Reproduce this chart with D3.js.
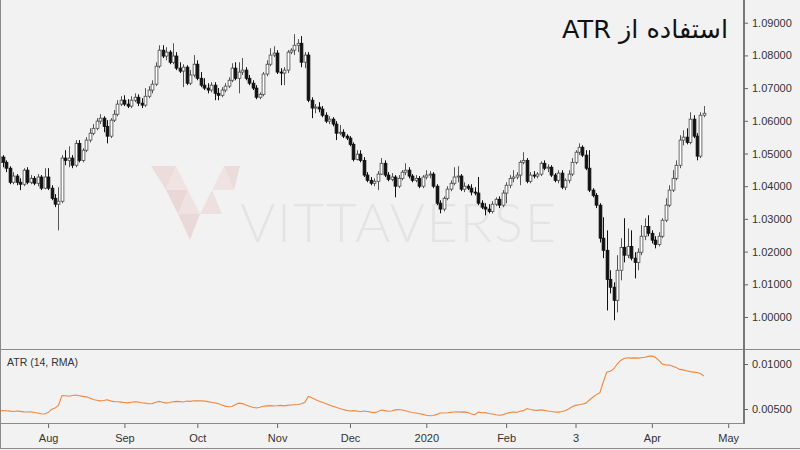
<!DOCTYPE html>
<html><head><meta charset="utf-8">
<script src="https://cdn.jsdelivr.net/npm/d3@7"></script>
<style>body{margin:0;background:#f2f2f2;}svg{display:block;}</style>
</head><body>
<svg id="chart" width="800" height="450"></svg>
<script>
// ---------- DATA ----------
const startDate = "2019-07-12"; // first daily bar (weekdays only)
const opens = [
1.0473,1.0489,1.0473,1.0455,1.0412,1.0431,1.0412,1.0406,1.0449,1.0412,
1.0424,1.0409,1.0428,1.0394,1.0428,1.0394,1.0363,1.0345,1.0354,1.0486,
1.0479,1.0486,1.0464,1.0531,1.0479,1.0510,1.0541,1.0562,1.0577,1.0599,
1.0608,1.0583,1.0553,1.0602,1.0620,1.0651,1.0663,1.0651,1.0645,1.0663,
1.0672,1.0654,1.0648,1.0675,1.0694,1.0712,1.0767,1.0816,1.0798,1.0810,
1.0779,1.0798,1.0761,1.0752,1.0764,1.0715,1.0740,1.0773,1.0730,1.0709,
1.0700,1.0694,1.0709,1.0684,1.0678,1.0694,1.0706,1.0724,1.0761,1.0730,
1.0749,1.0755,1.0730,1.0715,1.0700,1.0672,1.0681,1.0743,1.0773,1.0801,
1.0807,1.0749,1.0746,1.0755,1.0810,1.0816,1.0831,1.0837,1.0779,1.0801,
1.0663,1.0639,1.0642,1.0636,1.0617,1.0599,1.0605,1.0590,1.0562,1.0565,
1.0553,1.0547,1.0528,1.0482,1.0498,1.0479,1.0434,1.0418,1.0409,1.0415,
1.0437,1.0470,1.0434,1.0421,1.0428,1.0400,1.0424,1.0443,1.0449,1.0431,
1.0418,1.0424,1.0400,1.0428,1.0434,1.0437,1.0400,1.0348,1.0330,1.0363,
1.0391,1.0409,1.0428,1.0431,1.0391,1.0400,1.0394,1.0382,1.0379,1.0348,
1.0336,1.0330,1.0323,1.0345,1.0360,1.0342,1.0379,1.0403,1.0424,1.0428,
1.0434,1.0473,1.0479,1.0415,1.0434,1.0431,1.0437,1.0470,1.0455,1.0458,
1.0434,1.0418,1.0440,1.0397,1.0418,1.0437,1.0473,1.0504,1.0519,1.0495,
1.0455,1.0388,1.0372,1.0342,1.0241,1.0204,1.0115,1.0091,1.0051,1.0143,
1.0213,1.0189,1.0216,1.0180,1.0167,1.0198,1.0247,1.0277,1.0256,1.0235,
1.0222,1.0247,1.0296,1.0342,1.0388,1.0424,1.0464,1.0541,1.0550,1.0534,
1.0605,1.0553,1.0492,1.0617];
const highs = [
1.0501,1.0495,1.0479,1.0461,1.0443,1.0437,1.0424,1.0455,1.0458,1.0434,
1.0431,1.0437,1.0434,1.0455,1.0455,1.0403,1.0376,1.0397,1.0495,1.0510,
1.0522,1.0495,1.0541,1.0541,1.0516,1.0550,1.0577,1.0590,1.0608,1.0620,
1.0614,1.0602,1.0608,1.0633,1.0663,1.0675,1.0678,1.0666,1.0675,1.0684,
1.0681,1.0669,1.0700,1.0706,1.0724,1.0779,1.0831,1.0831,1.0825,1.0816,
1.0837,1.0810,1.0779,1.0773,1.0770,1.0755,1.0801,1.0785,1.0749,1.0730,
1.0715,1.0718,1.0718,1.0700,1.0703,1.0715,1.0733,1.0776,1.0779,1.0779,
1.0792,1.0764,1.0740,1.0724,1.0709,1.0687,1.0749,1.0785,1.0822,1.0828,
1.0816,1.0761,1.0764,1.0816,1.0822,1.0865,1.0850,1.0859,1.0810,1.0810,
1.0672,1.0651,1.0657,1.0645,1.0626,1.0614,1.0611,1.0599,1.0587,1.0574,
1.0559,1.0553,1.0534,1.0510,1.0510,1.0489,1.0443,1.0428,1.0424,1.0446,
1.0486,1.0479,1.0443,1.0440,1.0434,1.0434,1.0449,1.0470,1.0458,1.0437,
1.0434,1.0431,1.0434,1.0449,1.0446,1.0443,1.0406,1.0357,1.0369,1.0400,
1.0418,1.0458,1.0461,1.0437,1.0412,1.0406,1.0406,1.0397,1.0428,1.0357,
1.0348,1.0345,1.0354,1.0366,1.0369,1.0388,1.0412,1.0434,1.0449,1.0443,
1.0479,1.0504,1.0486,1.0443,1.0446,1.0443,1.0476,1.0479,1.0467,1.0464,
1.0440,1.0449,1.0449,1.0424,1.0449,1.0486,1.0510,1.0531,1.0525,1.0510,
1.0510,1.0394,1.0379,1.0348,1.0305,1.0265,1.0143,1.0106,1.0189,1.0241,
1.0302,1.0271,1.0265,1.0198,1.0210,1.0281,1.0302,1.0311,1.0265,1.0247,
1.0259,1.0302,1.0363,1.0403,1.0449,1.0479,1.0556,1.0571,1.0577,1.0626,
1.0617,1.0562,1.0626,1.0645];
const lows = [
1.0464,1.0458,1.0443,1.0406,1.0406,1.0403,1.0388,1.0400,1.0406,1.0406,
1.0403,1.0400,1.0388,1.0391,1.0388,1.0357,1.0336,1.0265,1.0348,1.0464,
1.0458,1.0455,1.0458,1.0473,1.0473,1.0504,1.0534,1.0556,1.0571,1.0590,
1.0565,1.0531,1.0547,1.0596,1.0614,1.0645,1.0645,1.0639,1.0639,1.0657,
1.0645,1.0639,1.0642,1.0669,1.0684,1.0706,1.0761,1.0792,1.0785,1.0773,
1.0773,1.0755,1.0746,1.0703,1.0709,1.0709,1.0733,1.0724,1.0703,1.0694,
1.0684,1.0687,1.0663,1.0663,1.0672,1.0687,1.0700,1.0718,1.0724,1.0684,
1.0740,1.0724,1.0709,1.0694,1.0666,1.0666,1.0675,1.0736,1.0767,1.0795,
1.0743,1.0709,1.0709,1.0746,1.0804,1.0801,1.0810,1.0764,1.0761,1.0657,
1.0608,1.0623,1.0626,1.0611,1.0593,1.0590,1.0583,1.0541,1.0556,1.0547,
1.0541,1.0522,1.0476,1.0479,1.0473,1.0428,1.0412,1.0403,1.0400,1.0388,
1.0434,1.0428,1.0415,1.0415,1.0366,1.0394,1.0418,1.0434,1.0424,1.0412,
1.0412,1.0394,1.0394,1.0421,1.0424,1.0394,1.0342,1.0317,1.0323,1.0357,
1.0385,1.0403,1.0412,1.0385,1.0382,1.0388,1.0372,1.0372,1.0342,1.0330,
1.0311,1.0317,1.0317,1.0339,1.0333,1.0336,1.0348,1.0394,1.0412,1.0421,
1.0403,1.0467,1.0409,1.0409,1.0424,1.0424,1.0431,1.0449,1.0443,1.0428,
1.0412,1.0409,1.0391,1.0388,1.0409,1.0431,1.0467,1.0495,1.0489,1.0449,
1.0382,1.0366,1.0333,1.0228,1.0180,1.0020,1.0072,0.9990,1.0014,1.0112,
1.0167,1.0180,1.0173,1.0118,1.0143,1.0189,1.0235,1.0247,1.0225,1.0210,
1.0216,1.0241,1.0290,1.0336,1.0382,1.0418,1.0455,1.0525,1.0528,1.0528,
1.0547,1.0479,1.0486,1.0611];
const closes = [
1.0489,1.0473,1.0455,1.0412,1.0431,1.0412,1.0406,1.0449,1.0412,1.0424,
1.0409,1.0428,1.0394,1.0428,1.0394,1.0363,1.0345,1.0354,1.0486,1.0479,
1.0486,1.0464,1.0531,1.0479,1.0510,1.0541,1.0562,1.0577,1.0599,1.0608,
1.0583,1.0553,1.0602,1.0620,1.0651,1.0663,1.0651,1.0645,1.0663,1.0672,
1.0654,1.0648,1.0675,1.0694,1.0712,1.0767,1.0816,1.0798,1.0810,1.0779,
1.0798,1.0761,1.0752,1.0764,1.0715,1.0740,1.0773,1.0730,1.0709,1.0700,
1.0694,1.0709,1.0684,1.0678,1.0694,1.0706,1.0724,1.0761,1.0730,1.0749,
1.0755,1.0730,1.0715,1.0700,1.0672,1.0681,1.0743,1.0773,1.0801,1.0807,
1.0749,1.0746,1.0755,1.0810,1.0816,1.0831,1.0837,1.0779,1.0801,1.0663,
1.0639,1.0642,1.0636,1.0617,1.0599,1.0605,1.0590,1.0562,1.0565,1.0553,
1.0547,1.0528,1.0482,1.0498,1.0479,1.0434,1.0418,1.0409,1.0415,1.0437,
1.0470,1.0434,1.0421,1.0428,1.0400,1.0424,1.0443,1.0449,1.0431,1.0418,
1.0424,1.0400,1.0428,1.0434,1.0437,1.0400,1.0348,1.0330,1.0363,1.0391,
1.0409,1.0428,1.0431,1.0391,1.0400,1.0394,1.0382,1.0379,1.0348,1.0336,
1.0330,1.0323,1.0345,1.0360,1.0342,1.0379,1.0403,1.0424,1.0428,1.0434,
1.0473,1.0479,1.0415,1.0434,1.0431,1.0437,1.0470,1.0455,1.0458,1.0434,
1.0418,1.0440,1.0397,1.0418,1.0437,1.0473,1.0504,1.0519,1.0495,1.0455,
1.0388,1.0372,1.0342,1.0241,1.0204,1.0115,1.0091,1.0051,1.0143,1.0213,
1.0189,1.0216,1.0180,1.0167,1.0198,1.0247,1.0277,1.0256,1.0235,1.0222,
1.0247,1.0296,1.0342,1.0388,1.0424,1.0464,1.0541,1.0550,1.0534,1.0605,
1.0553,1.0492,1.0617,1.0623];
const atrValues = [
0.00478,0.00482,0.00480,0.00476,0.00472,0.00478,0.00474,0.00468,0.00466,0.00470,
0.00462,0.00455,0.00448,0.00445,0.00460,0.00495,0.00510,0.00540,0.00650,0.00648,
0.00642,0.00650,0.00655,0.00648,0.00640,0.00635,0.00622,0.00605,0.00598,0.00590,
0.00595,0.00602,0.00590,0.00582,0.00580,0.00576,0.00572,0.00568,0.00575,0.00580,
0.00578,0.00570,0.00565,0.00558,0.00560,0.00575,0.00585,0.00575,0.00565,0.00572,
0.00580,0.00585,0.00582,0.00578,0.00588,0.00585,0.00592,0.00590,0.00592,0.00588,
0.00582,0.00575,0.00570,0.00560,0.00545,0.00532,0.00525,0.00528,0.00550,0.00565,
0.00560,0.00545,0.00530,0.00520,0.00512,0.00520,0.00530,0.00535,0.00538,0.00534,
0.00536,0.00540,0.00535,0.00540,0.00545,0.00548,0.00550,0.00558,0.00575,0.00640,
0.00625,0.00605,0.00590,0.00575,0.00560,0.00545,0.00530,0.00520,0.00505,0.00495,
0.00485,0.00478,0.00482,0.00478,0.00470,0.00478,0.00472,0.00465,0.00460,0.00470,
0.00488,0.00482,0.00475,0.00478,0.00490,0.00495,0.00488,0.00480,0.00470,0.00462,
0.00455,0.00448,0.00440,0.00430,0.00425,0.00428,0.00440,0.00455,0.00456,0.00458,
0.00462,0.00466,0.00470,0.00465,0.00468,0.00460,0.00445,0.00438,0.00465,0.00458,
0.00460,0.00450,0.00445,0.00436,0.00430,0.00435,0.00450,0.00460,0.00466,0.00462,
0.00475,0.00482,0.00505,0.00495,0.00488,0.00485,0.00490,0.00485,0.00478,0.00472,
0.00468,0.00465,0.00472,0.00480,0.00500,0.00525,0.00540,0.00548,0.00555,0.00565,
0.00600,0.00630,0.00660,0.00680,0.00800,0.00910,0.00920,0.00945,0.01000,0.01040,
0.01062,0.01070,0.01065,0.01068,0.01065,0.01070,0.01075,0.01085,0.01090,0.01075,
0.01040,0.01000,0.00990,0.00988,0.00975,0.00960,0.00940,0.00935,0.00925,0.00915,
0.00910,0.00905,0.00895,0.00865];
const monthLabels = ["Aug","Sep","Oct","Nov","Dec","2020","Feb","3","Apr","May"];
const priceTicks = [1.00,1.01,1.02,1.03,1.04,1.05,1.06,1.07,1.08,1.09];
const atrTicks = [0.005,0.010];
const titleText = "استفاده از ATR";
const atrLabel = "ATR (14, RMA)";
const watermarkText = "VITTAVERSE";

// ---------- SETUP ----------
const svg = d3.select("#chart");
const W = 800, H = 450, plotR = 743, mainB = 349, atrB = 423;
svg.append("rect").attr("width",W).attr("height",H).attr("fill","#f2f2f2");

// weekday dates
const parse = d3.utcParse("%Y-%m-%d");
const dates = [];
let dd = parse(startDate);
while (dates.length < opens.length + 12) {
  const wd = dd.getUTCDay();
  if (wd !== 0 && wd !== 6) dates.push(dd);
  dd = d3.utcDay.offset(dd, 1);
}
const monthStarts = [];
for (let i = 1; i < dates.length; i++)
  if (dates[i].getUTCMonth() !== dates[i-1].getUTCMonth()) monthStarts.push(i);

const bars = opens.map((o,i)=>({i, o, h:highs[i], l:lows[i], c:closes[i]}));

const x = d3.scaleLinear().domain([0,210]).range([-0.5,728.2]);
const y = d3.scaleLinear().domain([1.00,1.09]).range([317,22.7]);
const ya = d3.scaleLinear().domain([0.005,0.010]).range([409,364]);

const defs = svg.append("defs");
defs.append("clipPath").attr("id","cMain").append("rect").attr("x",0).attr("y",0).attr("width",plotR).attr("height",mainB);
defs.append("clipPath").attr("id","cAtr").append("rect").attr("x",0).attr("y",mainB).attr("width",plotR).attr("height",atrB-mainB);

// ---------- WATERMARK ----------
const wm = svg.append("g").attr("opacity",1);
const logo = [
  {p:[[151,166],[176,166],[166,190]], f:"#eddcdc"},
  {p:[[166,190],[176,166],[188,190]], f:"#f0e3e3"},
  {p:[[166,190],[188,190],[178,214]], f:"#ead8d8"},
  {p:[[178,214],[188,190],[200,214]], f:"#efe2e2"},
  {p:[[178,214],[200,214],[190,240]], f:"#e9d9d9"},
  {p:[[200,214],[212,190],[222,214]], f:"#ede0e0"},
  {p:[[212,190],[224,166],[234,190]], f:"#efe3e3"},
  {p:[[224,166],[240,166],[234,190]], f:"#ebdcdc"}
];
wm.selectAll("polygon").data(logo).join("polygon")
  .attr("points", d=>d.p.map(q=>q.join(",")).join(" "))
  .attr("fill", d=>d.f);
wm.append("text").attr("x",240).attr("y",242).text(watermarkText)
  .attr("font-family","Lato, 'Open Sans', sans-serif").attr("font-weight",300)
  .attr("font-size",54).attr("fill","#e4e4e4")
  .attr("textLength",316).attr("lengthAdjust","spacing");

// ---------- CANDLES ----------
const gC = svg.append("g").attr("clip-path","url(#cMain)");
const cw = 2.8;
gC.selectAll("line.w").data(bars).join("line").attr("class","w")
  .attr("x1",d=>Math.round(x(d.i))+0.5).attr("x2",d=>Math.round(x(d.i))+0.5)
  .attr("y1",d=>y(d.h)).attr("y2",d=>y(d.l))
  .attr("stroke",d=>d.c>=d.o?"#555":"#111").attr("stroke-width",1);
gC.selectAll("rect.b").data(bars).join("rect").attr("class","b")
  .attr("x",d=>Math.round(x(d.i))+0.5-cw/2)
  .attr("y",d=>y(Math.max(d.o,d.c)))
  .attr("width",cw)
  .attr("height",d=>Math.max(0.8,Math.abs(y(d.o)-y(d.c))))
  .attr("fill",d=>d.c>=d.o?"#ffffff":"#111")
  .attr("stroke",d=>d.c>=d.o?"#4a4a4a":"#111").attr("stroke-width",0.8);

// ---------- ATR ----------
const gA = svg.append("g").attr("clip-path","url(#cAtr)");
gA.append("path").datum(atrValues)
  .attr("d", d3.line().x((d,i)=>x(i)).y(d=>ya(d)))
  .attr("fill","none").attr("stroke","#f0883e").attr("stroke-width",1.1);
svg.append("text").attr("x",7).attr("y",366).text(atrLabel)
  .attr("font-family","'Liberation Sans', Arial, sans-serif").attr("font-size",10.5).attr("fill","#333");

// ---------- FRAME LINES ----------
const frame = svg.append("g").attr("stroke","#8a8a8a").attr("stroke-width",1).attr("shape-rendering","crispEdges");
frame.append("line").attr("x1",0).attr("x2",W).attr("y1",mainB+0.5).attr("y2",mainB+0.5);
frame.append("line").attr("x1",0).attr("x2",plotR).attr("y1",atrB+0.5).attr("y2",atrB+0.5);
frame.append("line").attr("x1",0).attr("x2",W).attr("y1",448.5).attr("y2",448.5);
frame.append("line").attr("x1",0.5).attr("x2",0.5).attr("y1",0).attr("y2",449);
frame.append("line").attr("x1",plotR+0.5).attr("x2",plotR+0.5).attr("y1",0).attr("y2",atrB+1).attr("stroke","#777").attr("stroke-width",2);

// ---------- AXES ----------
function styleAxis(g){
  g.select(".domain").remove();
  g.selectAll("line").attr("stroke","#666");
  g.selectAll("text").attr("fill","#333").attr("font-size",11)
   .attr("font-family","'Liberation Sans', Arial, sans-serif");
}
svg.append("g").attr("transform",`translate(${plotR+1},0)`)
  .call(d3.axisRight(y).tickValues(priceTicks).tickFormat(d3.format(".5f")).tickSize(4).tickPadding(4))
  .call(styleAxis);
svg.append("g").attr("transform",`translate(${plotR+1},0)`)
  .call(d3.axisRight(ya).tickValues(atrTicks).tickFormat(d3.format(".5f")).tickSize(4).tickPadding(4))
  .call(styleAxis);
svg.append("g").attr("transform",`translate(0,${atrB+1})`)
  .call(d3.axisBottom(x).tickValues(monthStarts.slice(0,monthLabels.length)).tickFormat((d,i)=>monthLabels[i]).tickSize(4).tickPadding(6))
  .call(styleAxis);

// ---------- TITLE ----------
svg.append("text").attr("x",728).attr("y",38)
  .attr("direction","rtl").attr("text-anchor","start")
  .attr("font-family","'DejaVu Sans', 'Noto Sans', sans-serif").attr("font-size",25.5)
  .attr("fill","#111").text(titleText);
</script>
</body></html>
